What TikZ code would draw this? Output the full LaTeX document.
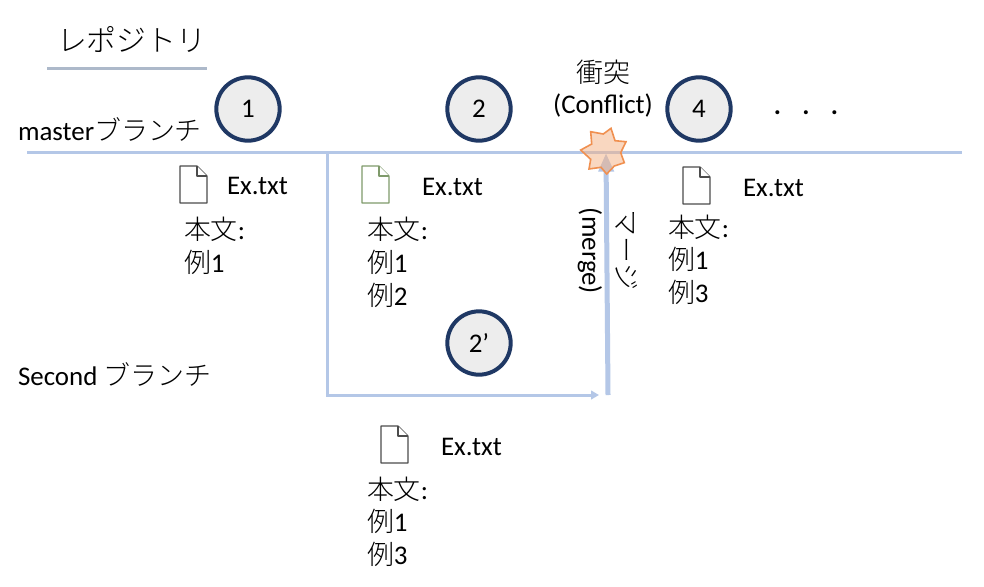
\documentclass[tikz,border=0pt]{standalone}
\usepackage{fontspec}
\setmainfont{Carlito}
\newfontfamily\cjk{Noto Sans CJK JP Light}
\usetikzlibrary{arrows.meta}
\definecolor{lineblue}{HTML}{B4C7E7}
\definecolor{navy}{HTML}{1F3864}
\definecolor{discfill}{HTML}{EDEDED}
\definecolor{titlerule}{HTML}{ADB9CA}
\definecolor{starfill}{HTML}{F4B183}
\definecolor{starline}{HTML}{ED7D31}
\definecolor{greenedge}{HTML}{7F9A6B}
\newcommand{\J}[1]{{\cjk #1}}
\tikzset{
  x=0.75pt,y=-0.75pt,
  body/.style={inner sep=0pt,outer sep=0pt,font=\fontsize{20.2}{24}\selectfont,text=black},
  lbl/.style={body,anchor=base west},
  commit/.style={circle,draw=navy,fill=discfill,line width=3pt,minimum size=47.5pt,inner sep=0pt,font=\fontsize{20.2}{24}\selectfont},
  branchline/.style={draw=lineblue,line width=2.25pt},
  fileicon/.style={draw=#1,fill=white,line width=0.85pt,line join=round},
  fileicon/.default={black!70},
}
\newcommand{\filedoc}[3]{%
  \draw[fileicon=#3] (#1,#2) -- ++(17,0) -- ++(10,10) -- ++(0,27) -- ++(-27,0) -- cycle;
  \draw[fileicon=#3] (#1+17,#2) -- ++(0,10) -- ++(10,0);
}
\begin{document}
\begin{tikzpicture}
\useasboundingbox[fill=white] (0,0) rectangle (984,586);

% title
\node[lbl,font=\fontsize{22.4}{26}\selectfont] (title) at (57,51) {\J{レポジトリ}};
\coordinate (ruleA) at (47,68);
\coordinate (ruleB) at (207,68);
\draw[titlerule,line width=2.25pt] (ruleA) -- (ruleB);

% branches
\coordinate (trunkA) at (27,152);
\coordinate (trunkB) at (962,152);
\coordinate (forkTop) at (327,152);
\coordinate (forkCorner) at (327,395);
\coordinate (forkEnd) at (599,395);
\coordinate (mergeFrom) at (608,395);
\coordinate (mergeTo) at (606,153);
\draw[branchline] (trunkA) -- (trunkB);
\draw[branchline,-{Triangle[length=6pt,width=6.5pt]}] (forkTop) -- (forkCorner) -- (forkEnd);
\draw[draw=lineblue,line width=3.75pt,-{Triangle[length=14pt,width=11pt]}] (mergeFrom) -- (mergeTo);

% conflict star
\path[fill=starfill,fill opacity=0.5,draw=starline!85!white,line width=1.2pt,line join=miter]
  (590.7,131.7) -- (603.3,134) -- (611,128.3) -- (615,140.7) -- (626,141.7) -- (620.7,152.7)
  -- (624.3,162.7) -- (614.3,166) -- (606.7,174) -- (601,167.3) -- (589,169) -- (590.7,159.3)
  -- (580.7,150) -- (591.7,144) -- cycle;

% commits
\node[commit] (c1) at (248,109) {1};
\node[commit] (c2) at (479,109) {2};
\node[commit] (c4) at (699,109) {4};
\node[commit] (c2b) at (479,343) {2’};

% labels
\node[lbl] (master) at (18,140) {master\J{ブランチ}};
\node[lbl] (second) at (18,385) {Second \J{ブランチ}};
\node[body] (conflictJ) at (603,72) {\J{衝突}};
\node[body] (conflict) at (603,106) {(Conflict)};
\node[body,font=\bfseries\fontsize{20.2}{24}\selectfont] (dots) at (806,113) {.\hspace{16pt}.\hspace{16pt}.};
\node[body,rotate=-90] (mergeJ) at (627,250) {\J{マージ}};
\node[body,rotate=-90] (mergeE) at (590,251) {(merge)};

% files
\filedoc{180}{166}{black!70}
\node[lbl] (f1) at (227,194) {Ex.txt};
\node[lbl] (t1a) at (184,239) {\J{本文}:};
\node[lbl] (t1b) at (184,272) {\J{例}1};

\filedoc{362}{166}{greenedge}
\node[lbl] (f2) at (422,195) {Ex.txt};
\node[lbl] (t2a) at (367,239) {\J{本文}:};
\node[lbl] (t2b) at (367,272) {\J{例}1};
\node[lbl] (t2c) at (367,305) {\J{例}2};

\filedoc{381}{426}{black!70}
\node[lbl] (f3) at (441,455) {Ex.txt};
\node[lbl] (t3a) at (367,499) {\J{本文}:};
\node[lbl] (t3b) at (367,531) {\J{例}1};
\node[lbl] (t3c) at (367,564) {\J{例}3};

\filedoc{683}{167}{black!70}
\node[lbl] (f4) at (743,196) {Ex.txt};
\node[lbl] (t4a) at (668,237) {\J{本文}:};
\node[lbl] (t4b) at (668,269) {\J{例}1};
\node[lbl] (t4c) at (668,302) {\J{例}3};
\end{tikzpicture}
\end{document}
